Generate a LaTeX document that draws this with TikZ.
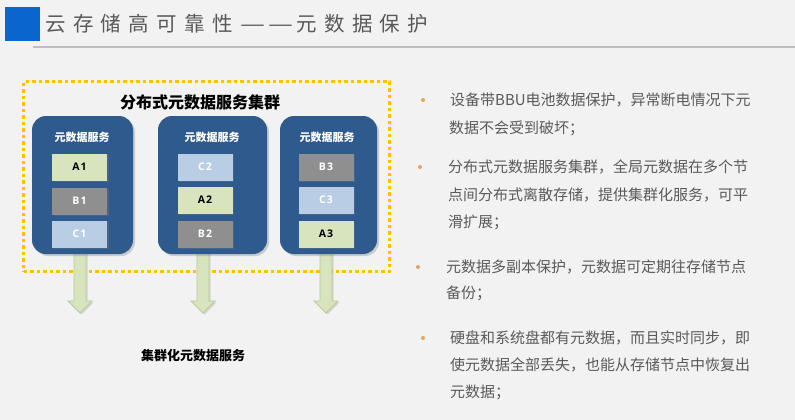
\documentclass[tikz,border=0pt]{standalone}
\usepackage{fontspec}
\usepackage{graphicx}
\setmainfont{Noto Sans CJK SC}
\newfontfamily\cjk{Noto Sans CJK SC}
\newfontfamily\lblfont[LetterSpace=12]{Open Sans}
\newcommand\tc[1]{\makebox[27.9pt][l]{#1}}
\newcommand\ttldash{\tc{\resizebox{25pt}{\height}{—}}}
\usetikzlibrary{shadows,calc}
\definecolor{bg}{HTML}{F2F2F2}
\definecolor{ttlblue}{HTML}{0A66CC}
\definecolor{ttlgray}{HTML}{595959}
\definecolor{rulegray}{HTML}{BFBFBF}
\definecolor{dotyel}{HTML}{FFC000}
\definecolor{svcblue}{HTML}{2E5A8E}
\definecolor{agreen}{HTML}{D7E4BD}
\definecolor{bgray}{HTML}{8F8F8F}
\definecolor{cblue}{HTML}{B9CDE5}
\definecolor{txtgray}{HTML}{5A5A5A}
\definecolor{bulletor}{HTML}{E9A25F}
\definecolor{arrline}{HTML}{B8C99A}
\begin{document}
\begin{tikzpicture}[x=1pt,y=-1pt,
  svc/.style={fill=svcblue, rounded corners=14pt, inner sep=0pt,
    drop shadow={opacity=0.35, shadow xshift=2pt, shadow yshift=-2pt}},
  svchead/.style={text=white, font=\cjk\bfseries\fontsize{11}{13}\selectfont, inner sep=0pt},
  blk/.style={minimum width=55pt, minimum height=27pt, inner sep=0pt,
    font=\lblfont\bfseries\fontsize{10.5}{12}\selectfont,
    drop shadow={opacity=0.3, shadow xshift=1.5pt, shadow yshift=-1.5pt}},
  blkA/.style={blk, fill=agreen, text=black},
  blkB/.style={blk, fill=bgray, text=white},
  blkC/.style={blk, fill=cblue, text=white},
  barrow/.style={fill=agreen, draw=arrline, line width=0.8pt, line join=miter,
    drop shadow={opacity=0.25, shadow xshift=1.5pt, shadow yshift=-1.5pt}},
  line/.style={anchor=west, inner sep=0pt, text=txtgray, font=\cjk\fontsize{15}{18}\selectfont},
  dot/.style={circle, fill=bulletor, inner sep=0pt, minimum size=4pt},
  ttl/.style={inner sep=0pt, text=ttlgray, font=\cjk\fontsize{20.5}{24}\selectfont}
]
\fill[bg] (0,0) rectangle (795,420);
\useasboundingbox (0,0) rectangle (795,420);

% title
\node[fill=ttlblue, minimum width=35pt, minimum height=34pt, inner sep=0pt, anchor=north west] (sq) at (5,7) {};
\node[ttl, anchor=west] (title) at (45,24) {\tc{云}\tc{存}\tc{储}\tc{高}\tc{可}\tc{靠}\tc{性}\ttldash\ttldash\tc{元}\tc{数}\tc{据}\tc{保}\tc{护}};
\coordinate (ruleL) at (33,47);
\coordinate (ruleR) at (795,47);
\draw[rulegray, line width=2pt] (ruleL) -- (ruleR);

% cluster
\node[draw=dotyel, line width=3pt, dash pattern=on 3.5pt off 3pt, minimum width=366pt, minimum height=190pt, inner sep=0pt, anchor=north west] (cluster) at (22,80) {};
\node[font=\cjk\bfseries\fontsize{16}{19}\selectfont, inner sep=0pt] (ctitle) at (200,102) {分布式元数据服务集群};

% arrows (behind boxes)
\foreach \n/\cx in {1/80,2/203,3/326}{
  \coordinate (top\n) at (\cx,240);
  \coordinate (tip\n) at (\cx,313);
  \draw[barrow] ($(top\n)+(-6,0)$) -- ($(tip\n)+(-6,-12)$) -- ($(tip\n)+(-12,-12)$) -- (tip\n) -- ($(tip\n)+(12,-12)$) -- ($(tip\n)+(6,-12)$) -- ($(top\n)+(6,0)$) -- cycle;
}

% service boxes
\node[svc, minimum width=101pt, minimum height=138pt] (s1) at (82.5,185) {};
\node[svc, minimum width=109pt, minimum height=138pt] (s2) at (212.5,185) {};
\node[svc, minimum width=97pt, minimum height=138pt] (s3) at (328.5,185) {};
\node[svchead] (h1) at (82,137) {元数据服务};
\node[svchead] (h2) at (212,137) {元数据服务};
\node[svchead] (h3) at (327,137) {元数据服务};

\node[blkA] (a1) at (79.5,167) {A1};
\node[blkB] (b1) at (79.5,201) {B1};
\node[blkC] (c1) at (79.5,234) {C1};
\node[blkC] (c2) at (205,167) {C2};
\node[blkA] (a2) at (205,200) {A2};
\node[blkB] (b2) at (205,234) {B2};
\node[blkB] (b3) at (326,167) {B3};
\node[blkC] (c3) at (326,200) {C3};
\node[blkA] (a3) at (326,234) {A3};

\node[font=\cjk\bfseries\fontsize{13}{15}\selectfont, inner sep=0pt] (bottom) at (193,356) {集群化元数据服务};

% right text
\node[dot] (d1) at (423,100) {};
\node[line] (l11) at (450,100) {设备带BBU电池数据保护，异常断电情况下元};
\node[line] (l12) at (449,128) {数据不会受到破坏；};
\node[dot] (d2) at (420,167) {};
\node[line] (l21) at (448,167) {分布式元数据服务集群，全局元数据在多个节};
\node[line] (l22) at (448,195) {点间分布式离散存储，提供集群化服务，可平};
\node[line] (l23) at (448,222) {滑扩展；};
\node[dot] (d3) at (418,267) {};
\node[line] (l31) at (446,267) {元数据多副本保护，元数据可定期往存储节点};
\node[line] (l32) at (446,293) {备份；};
\node[dot] (d4) at (423,338) {};
\node[line] (l41) at (450,338) {硬盘和系统盘都有元数据，而且实时同步，即};
\node[line] (l42) at (450,365) {使元数据全部丢失，也能从存储节点中恢复出};
\node[line] (l43) at (450,392) {元数据；};
\end{tikzpicture}
\end{document}
